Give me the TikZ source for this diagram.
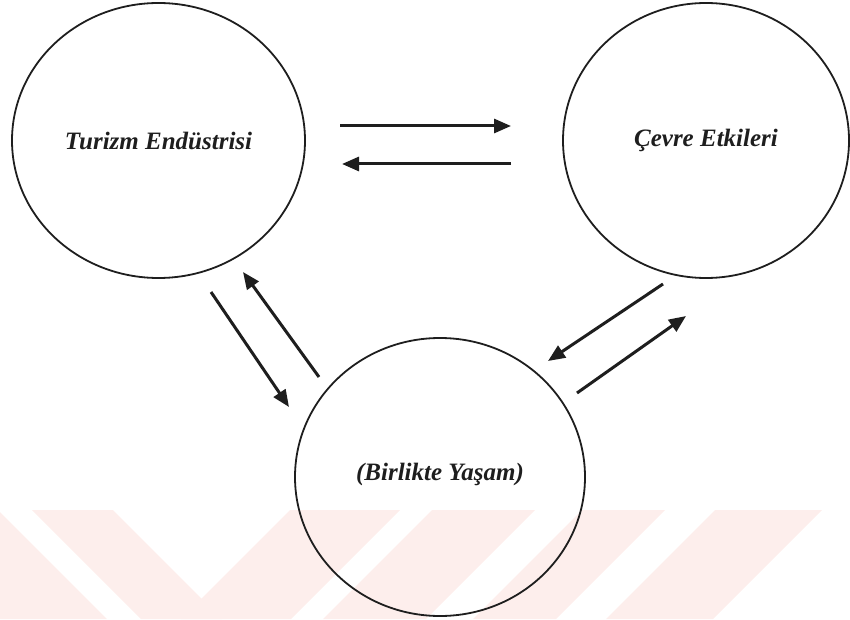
\documentclass[tikz,border=0pt]{standalone}
\usepackage{fontspec}
\setmainfont{Liberation Serif}
\usetikzlibrary{shapes.geometric,arrows.meta}
\definecolor{wm}{RGB}{253,238,236}
\definecolor{ink}{RGB}{30,30,30}
\tikzset{
  bubble/.style={draw=ink, line width=1.8pt, ellipse, inner sep=0pt,
    font=\fontsize{25}{30}\selectfont\bfseries\itshape, text=ink},
  link/.style={draw=ink, line width=3pt, -{Triangle[length=17pt,width=14pt]}},
  band/.style={fill=wm, draw=none}
}
\begin{document}
\begin{tikzpicture}[x=1pt,y=1pt]
\useasboundingbox (0,0) rectangle (850,619);
% watermark
\begin{scope}
\clip (0,0) rectangle (850,109);
\fill[band] (-110,109) -- (-2,109) -- (107,0) -- (-1,0) -- cycle;
\fill[band] (32,109) -- (113,109) -- (222,0) -- (141,0) -- cycle;
\fill[band] (290,109) -- (400,109) -- (291,0) -- (181,0) -- cycle;
\fill[band] (432,109) -- (535,109) -- (426,0) -- (323,0) -- cycle;
\fill[band] (582,109) -- (665,109) -- (556,0) -- (473,0) -- cycle;
\fill[band] (715,109) -- (822,109) -- (713,0) -- (606,0) -- cycle;
\end{scope}
% nodes
\node[bubble, minimum width=293pt, minimum height=275pt] (ind) at (158.5,478.5) {Turizm Endüstrisi};
\node[bubble, minimum width=286pt, minimum height=275pt] (env) at (706,478.5) {Çevre Etkileri};
\node[bubble, minimum width=290pt, minimum height=278pt, text depth=10pt] (coex) at (440,142) {(Birlikte Yaşam)};
% arrow ends
\coordinate (a1s) at (340,493); \coordinate (a1e) at (511,493);
\coordinate (a2s) at (511,455); \coordinate (a2e) at (342,455);
\coordinate (a3s) at (211,327); \coordinate (a3e) at (289,212);
\coordinate (a4s) at (319,242); \coordinate (a4e) at (243,347);
\coordinate (a5s) at (663,335); \coordinate (a5e) at (548,258);
\coordinate (a6s) at (577,226); \coordinate (a6e) at (686,303);
\draw[link] (a1s) -- (a1e);
\draw[link] (a2s) -- (a2e);
\draw[link] (a3s) -- (a3e);
\draw[link] (a4s) -- (a4e);
\draw[link] (a5s) -- (a5e);
\draw[link] (a6s) -- (a6e);
\end{tikzpicture}
\end{document}
